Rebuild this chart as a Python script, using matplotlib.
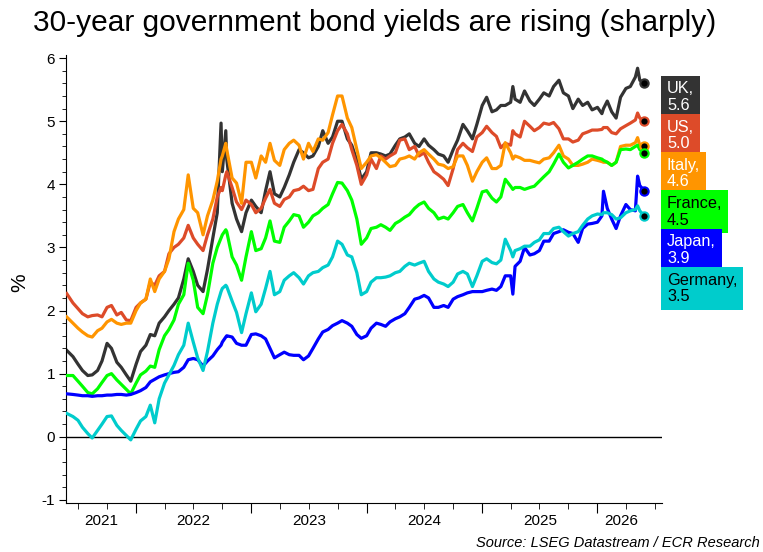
import matplotlib
matplotlib.use('Agg')
import matplotlib.pyplot as plt
import matplotlib.dates as mdates
from matplotlib.ticker import MultipleLocator
import pandas as pd

plt.rcParams['font.family'] = ['Liberation Sans', 'DejaVu Sans']
plt.rcParams['axes.unicode_minus'] = False

# 30-year yields, % (roughly twice a month)
dates = [
    '2021-05-26', '2021-06-15', '2021-07-01', '2021-07-15', '2021-08-01', '2021-08-15', '2021-09-01',
    '2021-09-15', '2021-10-01', '2021-10-15', '2021-11-01', '2021-11-15', '2021-12-01', '2021-12-15',
    '2022-01-01', '2022-01-15', '2022-02-01', '2022-02-15', '2022-03-01', '2022-03-15', '2022-04-01',
    '2022-04-15', '2022-05-01', '2022-05-15', '2022-06-01', '2022-06-15', '2022-07-01', '2022-07-15',
    '2022-08-01', '2022-08-15', '2022-09-01', '2022-09-15', '2022-09-27', '2022-10-01', '2022-10-12',
    '2022-10-15', '2022-11-01', '2022-11-15', '2022-12-01', '2022-12-15',
    '2023-01-01', '2023-01-15', '2023-02-01', '2023-02-15', '2023-03-01', '2023-03-15', '2023-04-01',
    '2023-04-15', '2023-05-01', '2023-05-15', '2023-06-01', '2023-06-15', '2023-07-01', '2023-07-15',
    '2023-08-01', '2023-08-15', '2023-09-01', '2023-09-15', '2023-10-01', '2023-10-15', '2023-11-01',
    '2023-11-15', '2023-12-01', '2023-12-15',
    '2024-01-01', '2024-01-15', '2024-02-01', '2024-02-15', '2024-03-01', '2024-03-15', '2024-04-01',
    '2024-04-15', '2024-05-01', '2024-05-15', '2024-06-01', '2024-06-15', '2024-07-01', '2024-07-15',
    '2024-08-01', '2024-08-15', '2024-09-01', '2024-09-15', '2024-10-01', '2024-10-15', '2024-11-01',
    '2024-11-15', '2024-12-01', '2024-12-15',
    '2025-01-01', '2025-01-15', '2025-02-01', '2025-02-15', '2025-03-01', '2025-03-15', '2025-04-01',
    '2025-04-08', '2025-04-15', '2025-05-01', '2025-05-15', '2025-06-01', '2025-06-15', '2025-07-01',
    '2025-07-15', '2025-08-01', '2025-08-15', '2025-09-01', '2025-09-15', '2025-10-01', '2025-10-15',
    '2025-11-01', '2025-11-15', '2025-12-01', '2025-12-15',
    '2026-01-01', '2026-01-15', '2026-01-20', '2026-02-01', '2026-02-15', '2026-03-01', '2026-03-15',
    '2026-04-01', '2026-04-15', '2026-05-01', '2026-05-08', '2026-05-15', '2026-05-29',
]

uk = [1.37, 1.27, 1.15, 1.05, 0.97, 0.98, 1.05, 1.20, 1.48, 1.40, 1.18, 1.10, 0.98, 0.88,
      1.15, 1.35, 1.45, 1.62, 1.60, 1.80, 1.90, 2.00, 2.10, 2.20, 2.50, 2.82, 2.62, 2.40, 2.30, 2.65,
      3.15, 3.55, 4.97, 4.20, 4.85, 4.40, 3.70, 3.45, 3.25, 3.55,
      3.75, 3.65, 3.55, 3.90, 4.20, 3.85, 3.80, 3.95, 4.15, 4.35, 4.55, 4.50,
      4.42, 4.45, 4.60, 4.85, 4.65, 4.75, 5.00, 5.00, 4.72, 4.62, 4.38, 4.08,
      4.20, 4.50, 4.50, 4.48, 4.45, 4.48, 4.62, 4.72, 4.75, 4.80, 4.65, 4.60,
      4.72, 4.62, 4.55, 4.48, 4.45, 4.35, 4.55, 4.70, 4.95, 4.85, 4.72, 4.95,
      5.25, 5.38, 5.15, 5.18, 5.25, 5.25, 5.30, 5.55, 5.35, 5.30, 5.48, 5.32, 5.25,
      5.35, 5.45, 5.40, 5.55, 5.65, 5.45, 5.40, 5.20, 5.35, 5.25, 5.30, 5.18,
      5.22, 5.12, 5.20, 5.32, 5.15, 5.05, 5.38, 5.52, 5.55, 5.70, 5.84, 5.65, 5.6]

us = [2.27, 2.12, 2.03, 1.95, 1.90, 1.92, 1.93, 1.90, 2.05, 2.08, 1.93, 1.97, 1.85, 1.84,
      2.05, 2.12, 2.18, 2.45, 2.40, 2.55, 2.62, 2.90, 3.00, 3.05, 3.15, 3.35, 3.15, 3.05, 2.95, 3.20,
      3.45, 3.80, 3.95, 3.90, 4.15, 4.20, 3.95, 3.72, 3.60, 3.75,
      3.68, 3.55, 3.62, 3.78, 3.92, 3.70, 3.65, 3.76, 3.80, 3.90, 3.92, 3.97,
      3.90, 3.92, 4.25, 4.35, 4.40, 4.65, 4.85, 4.95, 4.80, 4.55, 4.30, 4.00,
      4.15, 4.40, 4.25, 4.45, 4.40, 4.45, 4.50, 4.70, 4.72, 4.55, 4.60, 4.45,
      4.50, 4.35, 4.20, 4.15, 4.08, 3.98, 4.25, 4.55, 4.65, 4.58, 4.52, 4.75,
      4.82, 4.92, 4.82, 4.76, 4.58, 4.65, 4.62, 4.85, 4.80, 4.75, 5.00, 4.92, 4.85,
      4.90, 4.97, 4.95, 4.98, 4.88, 4.72, 4.72, 4.67, 4.70, 4.80, 4.83, 4.86,
      4.86, 4.87, 4.90, 4.90, 4.82, 4.80, 4.88, 4.93, 4.97, 5.02, 5.13, 5.05, 5.0]

italy = [1.90, 1.80, 1.72, 1.66, 1.60, 1.58, 1.68, 1.72, 1.82, 1.86, 1.80, 1.78, 1.80, 1.80,
         2.00, 2.12, 2.18, 2.50, 2.30, 2.50, 2.62, 2.82, 3.25, 3.45, 3.60, 4.15, 3.62, 3.55, 3.20, 3.50,
         3.75, 4.05, 4.40, 4.45, 4.65, 4.55, 4.10, 4.02, 3.70, 4.35,
         4.35, 4.10, 4.45, 4.35, 4.65, 4.38, 4.30, 4.55, 4.65, 4.70, 4.62, 4.40,
         4.65, 4.52, 4.72, 4.70, 4.82, 5.10, 5.40, 5.40, 5.05, 4.90, 4.55, 4.25,
         4.35, 4.45, 4.47, 4.42, 4.35, 4.28, 4.30, 4.40, 4.42, 4.45, 4.40, 4.50,
         4.55, 4.48, 4.40, 4.32, 4.30, 4.25, 4.28, 4.45, 4.45, 4.30, 4.05, 4.20,
         4.35, 4.42, 4.25, 4.25, 4.30, 4.66, 4.50, 4.40, 4.45, 4.42, 4.38, 4.38, 4.36,
         4.34, 4.40, 4.42, 4.50, 4.62, 4.45, 4.40, 4.30, 4.30, 4.32, 4.35, 4.40,
         4.38, 4.36, 4.35, 4.35, 4.30, 4.35, 4.60, 4.62, 4.62, 4.66, 4.74, 4.62, 4.6]

france = [0.97, 0.97, 0.88, 0.80, 0.70, 0.68, 0.76, 0.86, 0.97, 1.00, 0.90, 0.83, 0.75, 0.68,
          0.85, 0.98, 1.04, 1.12, 1.10, 1.38, 1.60, 1.70, 1.85, 2.10, 2.25, 2.75, 2.48, 2.05, 1.95, 2.25,
          2.75, 3.00, 3.15, 3.20, 3.28, 3.25, 2.85, 2.72, 2.48, 2.85,
          3.25, 2.95, 2.98, 3.15, 3.42, 3.10, 3.08, 3.32, 3.42, 3.52, 3.50, 3.32,
          3.40, 3.50, 3.55, 3.62, 3.68, 3.85, 4.03, 4.02, 3.90, 3.75, 3.45, 3.05,
          3.15, 3.30, 3.32, 3.36, 3.32, 3.27, 3.38, 3.42, 3.48, 3.52, 3.62, 3.68,
          3.72, 3.62, 3.55, 3.45, 3.48, 3.45, 3.55, 3.65, 3.68, 3.55, 3.42, 3.62,
          3.88, 3.90, 3.78, 3.72, 3.80, 4.08, 3.97, 3.92, 3.95, 3.95, 3.92, 3.95, 3.97,
          4.05, 4.12, 4.20, 4.32, 4.48, 4.35, 4.26, 4.30, 4.35, 4.40, 4.45, 4.45,
          4.42, 4.40, 4.38, 4.35, 4.30, 4.35, 4.55, 4.56, 4.55, 4.60, 4.62, 4.55, 4.5]

japan = [0.68, 0.67, 0.66, 0.65, 0.65, 0.64, 0.65, 0.65, 0.66, 0.66, 0.67, 0.67, 0.66, 0.67,
         0.70, 0.73, 0.78, 0.87, 0.91, 0.95, 0.98, 1.00, 1.02, 1.03, 1.10, 1.22, 1.24, 1.22, 1.12, 1.20,
         1.28, 1.38, 1.45, 1.50, 1.58, 1.60, 1.58, 1.48, 1.45, 1.45,
         1.62, 1.63, 1.60, 1.55, 1.40, 1.25, 1.30, 1.34, 1.30, 1.29, 1.29, 1.22,
         1.28, 1.40, 1.55, 1.66, 1.70, 1.76, 1.80, 1.84, 1.80, 1.75, 1.62, 1.56,
         1.60, 1.72, 1.80, 1.78, 1.75, 1.82, 1.87, 1.90, 1.95, 2.05, 2.18, 2.20,
         2.24, 2.20, 2.05, 2.05, 2.08, 2.05, 2.18, 2.22, 2.25, 2.28, 2.30, 2.30,
         2.30, 2.32, 2.34, 2.32, 2.38, 2.55, 2.55, 2.26, 2.70, 2.78, 3.00, 2.88, 2.90,
         2.95, 3.10, 3.10, 3.22, 3.25, 3.28, 3.24, 3.22, 3.08, 3.30, 3.37, 3.38,
         3.40, 3.50, 3.89, 3.62, 3.45, 3.30, 3.50, 3.68, 3.60, 3.58, 4.13, 3.98, 3.9]

germany = [0.37, 0.32, 0.26, 0.15, 0.05, -0.02, 0.10, 0.20, 0.32, 0.33, 0.18, 0.10, 0.02, -0.05,
           0.12, 0.25, 0.32, 0.50, 0.22, 0.60, 0.85, 0.98, 1.13, 1.30, 1.45, 1.80, 1.50, 1.25, 1.05, 1.35,
           1.80, 2.10, 2.30, 2.35, 2.40, 2.38, 2.15, 1.97, 1.65, 1.95,
           2.28, 1.98, 2.10, 2.35, 2.62, 2.25, 2.30, 2.48, 2.55, 2.60, 2.52, 2.42,
           2.55, 2.60, 2.62, 2.68, 2.72, 2.85, 3.10, 3.05, 2.88, 2.85, 2.60, 2.25,
           2.30, 2.45, 2.52, 2.52, 2.53, 2.55, 2.60, 2.62, 2.70, 2.75, 2.72, 2.75,
           2.78, 2.62, 2.50, 2.45, 2.42, 2.38, 2.45, 2.58, 2.62, 2.58, 2.38, 2.55,
           2.78, 2.82, 2.76, 2.74, 2.80, 3.13, 2.95, 2.85, 2.95, 2.98, 3.02, 3.02, 3.08,
           3.12, 3.22, 3.22, 3.30, 3.32, 3.25, 3.18, 3.22, 3.25, 3.35, 3.45, 3.50,
           3.53, 3.52, 3.55, 3.55, 3.52, 3.45, 3.47, 3.55, 3.58, 3.60, 3.66, 3.58, 3.5]

names = ['UK', 'US', 'Italy', 'France', 'Japan', 'Germany']
series = [uk, us, italy, france, japan, germany]
colors = ['#333333', '#DD4B29', '#FF9500', '#00FF00', '#0000FF', '#00CCCC']
text_colors = ['white', 'white', 'white', 'black', 'white', 'black']

x = pd.to_datetime(dates)

fig = plt.figure(figsize=(7.63, 5.52), dpi=100)
ax = fig.add_axes([0.0865, 0.0888, 0.781, 0.8116])

ax.axhline(0, color='black', lw=1, zorder=1)
for i in range(len(names)):
    ax.plot(x, series[i], color=colors[i], lw=2.3, zorder=2 + i)
    ax.plot(x[-1], series[i][-1], 'o', ms=6, mfc='black', mec=colors[i], mew=1.5, zorder=20)

x_left = pd.Timestamp('2021-05-24')
x_right = pd.Timestamp('2026-07-24')
ax.set_xlim(x_left, x_right)
ax.set_ylim(-1.05, 6.05)

ax.set_yticks(range(-1, 7))
ax.yaxis.set_minor_locator(MultipleLocator(0.2))
ax.tick_params(axis='y', which='major', length=5, labelsize=11, pad=3)
ax.tick_params(axis='y', which='minor', length=3)

ax.xaxis.set_major_locator(mdates.YearLocator())
ax.xaxis.set_minor_locator(mdates.MonthLocator(bymonth=[1, 4, 7, 10]))
ax.xaxis.set_major_formatter(plt.NullFormatter())
ax.tick_params(axis='x', which='major', length=7)
ax.tick_params(axis='x', which='minor', length=4)

# year labels in the middle of the visible part of each year
for year in range(2021, 2027):
    start = max(pd.Timestamp(f'{year}-01-01'), x[0])
    end = min(pd.Timestamp(f'{year + 1}-01-01'), x[-1])
    mid = start + (end - start) / 2
    ax.text(mdates.date2num(mid), -0.04, str(year), transform=ax.get_xaxis_transform(),
            ha='center', va='center', fontsize=11)

for side in ['top', 'right']:
    ax.spines[side].set_visible(False)
for side in ['left', 'bottom']:
    ax.spines[side].set_linewidth(0.8)

fig.text(375 / 763, 0.958, '30-year government bond yields are rising (sharply)',
         ha='center', va='center', fontsize=21.5)
fig.text(20 / 763, 1 - 283 / 552, '%', rotation=90, ha='center', va='center', fontsize=15)
fig.text(0.996, 1 - 543 / 552, 'Source: LSEG Datastream / ECR Research',
         ha='right', va='center', style='italic', fontsize=10.5,
         family=['Liberation Sans Narrow', 'Liberation Sans'])

# end-of-line labels stacked to the right of the plot
for i in range(len(names)):
    fig.text(667 / 763, 1 - (97 + i * 38.3) / 552, f'{names[i]},\n{series[i][-1]:.1f}',
             ha='left', va='center', fontsize=11.7, color=text_colors[i], linespacing=1.12,
             bbox=dict(boxstyle='square,pad=0.35', fc=colors[i], ec='none'))

fig.savefig('out.png', dpi=100)
